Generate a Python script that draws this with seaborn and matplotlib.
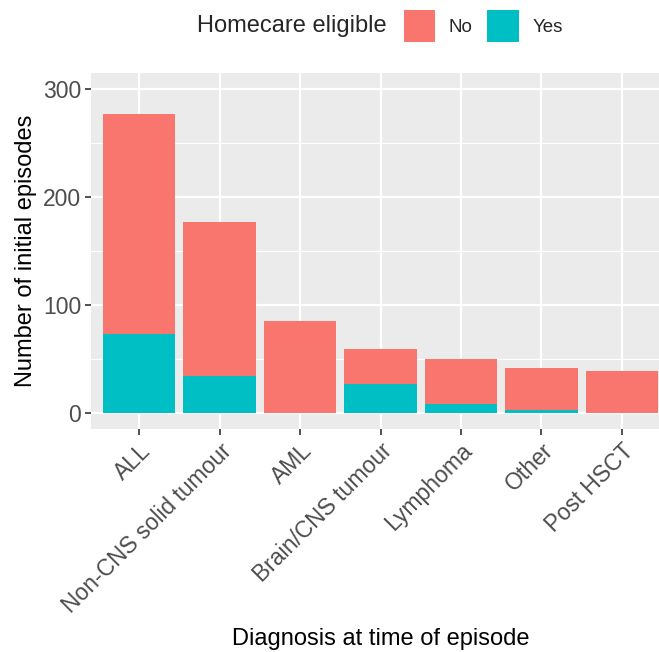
import pandas as pd
import matplotlib.pyplot as plt
import seaborn as sns
from matplotlib.patches import Patch
from matplotlib.ticker import MultipleLocator
from matplotlib.offsetbox import HPacker

# Data
diagnoses = ['ALL', 'Non-CNS solid tumour', 'AML', 'Brain/CNS tumour',
             'Lymphoma', 'Other', 'Post HSCT']
eligible_no = [204, 143, 85, 32, 42, 39, 39]
eligible_yes = [73, 34, 0, 27, 8, 3, 0]

df = pd.DataFrame({'diagnosis': diagnoses, 'No': eligible_no, 'Yes': eligible_yes})
df['total'] = df['No'] + df['Yes']

col_no = '#F8766D'
col_yes = '#00BFC4'

sns.set_style('white')
plt.rcParams['font.family'] = ['Liberation Sans', 'DejaVu Sans']

fig = plt.figure(figsize=(6.59, 6.52), dpi=100)
ax = fig.add_axes([91 / 659, 222.7 / 652, 579 / 659, 356 / 652])
ax.set_facecolor('#EBEBEB')

# stacked bars: total in "No" colour, "Yes" drawn over the bottom part
sns.barplot(data=df, x='diagnosis', y='total', color=col_no, width=0.9,
            saturation=1, ax=ax, zorder=3, linewidth=0, edgecolor='none')
sns.barplot(data=df, x='diagnosis', y='Yes', color=col_yes, width=0.9,
            saturation=1, ax=ax, zorder=4, linewidth=0, edgecolor='none')

ax.set_xlim(-0.6, 6.6)
ax.set_ylim(-15, 315)
ax.yaxis.set_major_locator(MultipleLocator(100))
ax.yaxis.set_minor_locator(MultipleLocator(50))
ax.grid(True, which='major', color='white', linewidth=1.6, zorder=0)
ax.grid(True, which='minor', axis='y', color='white', linewidth=0.8, zorder=0)
ax.set_axisbelow(True)
for s in ax.spines.values():
    s.set_visible(False)

ax.tick_params(axis='both', which='major', length=4, width=1.2, color='#333333',
               labelcolor='#4D4D4D', labelsize=16.5, pad=3, direction='out')
ax.tick_params(axis='both', which='minor', length=0)
ax.tick_params(axis='x', bottom=True)
ax.tick_params(axis='y', left=True)
plt.setp(ax.get_xticklabels(), rotation=45, ha='right', va='top',
         rotation_mode='anchor')

ax.set_xlabel('Diagnosis at time of episode', fontsize=17, color='black', labelpad=8)
ax.set_ylabel('Number of initial episodes', fontsize=17, color='black', labelpad=4)

handles = [Patch(facecolor=col_no, edgecolor='none', label='No'),
           Patch(facecolor=col_yes, edgecolor='none', label='Yes')]
leg = fig.legend(handles=handles, title='Homecare eligible', ncol=2,
                 loc='center', bbox_to_anchor=(380 / 659, 1 - 26 / 652),
                 frameon=False, fontsize=13.5, title_fontsize=17,
                 handlelength=1.7, handleheight=2.2, handletextpad=0.7,
                 columnspacing=0.8)
# title on the same line as the keys, like ggplot's top legend
leg._legend_box._children = [HPacker(pad=0, sep=12, align='center',
                                     children=[leg._legend_title_box,
                                               leg._legend_handle_box])]

fig.savefig('out.png', dpi=100)
